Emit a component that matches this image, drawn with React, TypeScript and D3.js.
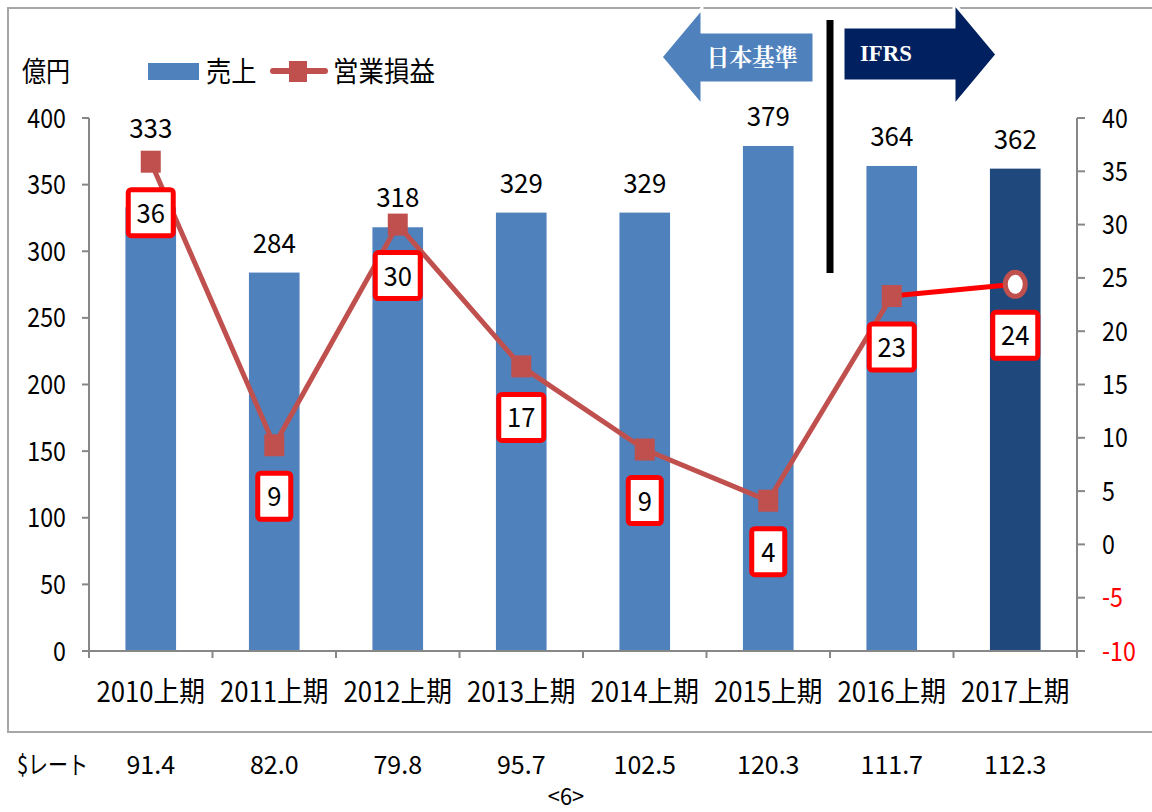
import React from 'react';
import * as d3 from 'd3';

const categories = ['2010上期', '2011上期', '2012上期', '2013上期', '2014上期', '2015上期', '2016上期', '2017上期'];
const sales = [333, 284, 318, 329, 329, 379, 364, 362];
const profit = [35.9, 9.3, 30.0, 16.7, 8.9, 4.1, 23.3, 24.4];
const rates = ['91.4', '82.0', '79.8', '95.7', '102.5', '120.3', '111.7', '112.3'];
const leftTicks = [0, 50, 100, 150, 200, 250, 300, 350, 400];
const rightTicks = [-10, -5, 0, 5, 10, 15, 20, 25, 30, 35, 40];

const W = 1152;
const H = 812;
const FONT = '"Noto Sans CJK JP", "Noto Sans", sans-serif';
const SX = 0.86;

function T({ x, y, children, anchor = 'middle', size = 27, fill = '#000', sx = SX, weight = 'normal', family = FONT }: any) {
  return (
    <text
      transform={`translate(${x},${y}) scale(${sx},1)`}
      textAnchor={anchor}
      fontSize={size}
      fill={fill}
      fontWeight={weight}
      fontFamily={family}
    >
      {children}
    </text>
  );
}

export default function App() {
  const x0 = 89;
  const x1 = 1077;
  const yTop = 118;
  const yBot = 651;
  const x = d3.scaleBand<string>().domain(categories).range([x0, x1]).paddingInner(0.59).paddingOuter(0.295);
  const yL = d3.scaleLinear().domain([0, 400]).range([yBot, yTop]);
  const yR = d3.scaleLinear().domain([-10, 40]).range([yBot, yTop]);
  const bw = x.bandwidth();
  const step = x.step();
  const cx = (c: string) => (x(c) as number) + bw / 2;
  const pts: [number, number][] = categories.map((c, i) => [cx(c), yR(profit[i])]);
  const line = d3.line<[number, number]>().x(d => d[0]).y(d => d[1]);
  const mainPts = pts.slice(0, 7);
  const lastSeg = pts.slice(6, 8);
  const boundary = (x(categories[6]) as number) - (step - bw) / 2;
  const gray = '#878787';

  const leftArrow = [
    [boundary - 169, 57], [boundary - 128, 8], [boundary - 128, 32], [boundary - 16, 32],
    [boundary - 16, 83], [boundary - 128, 83], [boundary - 128, 106],
  ];
  const rightArrow = [
    [boundary + 13, 27], [boundary + 124, 27], [boundary + 124, 3], [boundary + 167, 54.5],
    [boundary + 124, 106], [boundary + 124, 81], [boundary + 13, 81],
  ];

  return (
    <svg width={W} height={H} style={{ display: 'block', position: 'absolute', left: 0, top: 0 }} viewBox={`0 0 ${W} ${H}`}>
      <rect x={0} y={0} width={W} height={H} fill="#fff" />
      {/* frame */}
      <rect x={8} y={8} width={1170} height={724} fill="none" stroke="#A6A6A6" strokeWidth={2} />

      {/* bars */}
      {categories.map((c, i) => (
        <rect key={c} x={x(c)} y={yL(sales[i])} width={bw} height={yBot - yL(sales[i])}
          fill={i === 7 ? '#1F497D' : '#4F81BD'} />
      ))}

      {/* axes */}
      <line x1={x0} x2={x0} y1={yTop} y2={yBot} stroke={gray} strokeWidth={2} />
      <line x1={x1} x2={x1} y1={yTop} y2={yBot + 7} stroke={gray} strokeWidth={2} />
      <line x1={x0 - 7} x2={x1 + 8} y1={yBot} y2={yBot} stroke={gray} strokeWidth={2} />
      {leftTicks.map(t => (
        <g key={'l' + t}>
          <line x1={x0 - 7} x2={x0} y1={yL(t)} y2={yL(t)} stroke={gray} strokeWidth={2} />
          <T x={66} y={yL(t) + 9.5} anchor="end">{t}</T>
        </g>
      ))}
      {rightTicks.map(t => (
        <g key={'r' + t}>
          <line x1={x1} x2={x1 + 8} y1={yR(t)} y2={yR(t)} stroke={gray} strokeWidth={2} />
          <T x={1102} y={yR(t) + 9.5} anchor="start" fill={t < 0 ? '#FF0000' : '#000'}>{t}</T>
        </g>
      ))}
      {d3.range(categories.length + 1).map(k => (
        <line key={'xt' + k} x1={x0 + k * step} x2={x0 + k * step} y1={yBot} y2={yBot + 7} stroke={gray} strokeWidth={2} />
      ))}
      {categories.map(c => (
        <T key={'c' + c} x={cx(c)} y={702} size={28} sx={0.92}>{c}</T>
      ))}

      {/* bar labels */}
      {categories.map((c, i) => {
        let ly = yL(sales[i]) - 30;
        const my = yR(profit[i]);
        if (Math.abs(ly - my) < 24) ly = my - 34;
        return <T key={'bl' + c} x={cx(c)} y={ly + 10} size={27} sx={0.96}>{sales[i]}</T>;
      })}

      {/* profit line */}
      <path d={line(lastSeg) as string} fill="none" stroke="#FF0000" strokeWidth={5} />
      <path d={line(mainPts) as string} fill="none" stroke="#C0504D" strokeWidth={5} strokeLinejoin="round" />
      {mainPts.map((p, i) => (
        <rect key={'m' + i} x={p[0] - 10} y={p[1] - 11} width={20} height={22} fill="#C0504D" />
      ))}
      <ellipse cx={pts[7][0]} cy={pts[7][1]} rx={10} ry={12} fill="#fff" stroke="#C0504D" strokeWidth={5} />

      {/* profit labels */}
      {categories.map((c, i) => {
        const txt = String(Math.round(profit[i]));
        const bwid = txt.length === 1 ? 33 : 45;
        const bh = 46;
        const cyb = pts[i][1] + 51;
        return (
          <g key={'pl' + c}>
            <rect x={pts[i][0] - bwid / 2} y={cyb - bh / 2} width={bwid} height={bh} rx={3}
              fill="#fff" stroke="#FF0000" strokeWidth={5} />
            <T x={pts[i][0]} y={cyb + 10} size={27} sx={0.95}>{txt}</T>
          </g>
        );
      })}

      {/* unit & legend */}
      <T x={22} y={82} anchor="start" size={28}>億円</T>
      <rect x={148} y={63} width={51} height={17} fill="#4F81BD" />
      <T x={206} y={82} anchor="start" size={28} sx={0.9}>売上</T>
      <line x1={273} x2={325} y1={71} y2={71} stroke="#C0504D" strokeWidth={6} strokeLinecap="round" />
      <rect x={289} y={61} width={18} height={21} fill="#C0504D" />
      <T x={333} y={82} anchor="start" size={28} sx={0.91}>営業損益</T>

      {/* standards annotation */}
      <polygon points={leftArrow.map(p => p.join(',')).join(' ')} fill="#4F81BD" stroke="#fff" strokeWidth={3} />
      <polygon points={rightArrow.map(p => p.join(',')).join(' ')} fill="#002060" stroke="#fff" strokeWidth={3} />
      <T x={boundary - 78} y={66} size={24} fill="#fff" weight="bold" sx={0.95} family='"Liberation Serif", "Noto Serif CJK JP", serif'>日本基準</T>
      <T x={boundary + 30} y={61} anchor="start" size={24} fill="#fff" weight="bold" sx={0.95} family='"Liberation Serif", serif'>IFRS</T>
      <line x1={boundary} x2={boundary} y1={20} y2={273} stroke="#000" strokeWidth={7} />

      {/* rate row */}
      <T x={17} y={774} anchor="start" size={25} sx={0.8}>$レート</T>
      {categories.map((c, i) => (
        <T key={'rt' + c} x={cx(c)} y={774} size={25} sx={1.0}>{rates[i]}</T>
      ))}
      <T x={566} y={805} size={23} sx={0.95}>&lt;6&gt;</T>
    </svg>
  );
}
